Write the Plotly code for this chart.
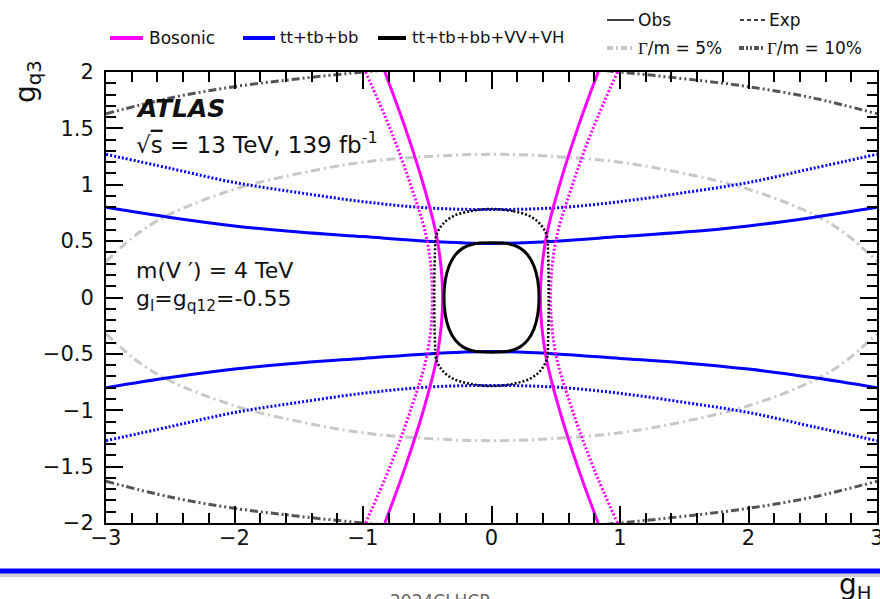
import plotly.graph_objects as go

# ---------------- data ----------------
# Bosonic (magenta) : g_H as a function of g_q3, right branch (left branch = negative)
bos_gq3 = [-2.0, -1.5, -1.0, -0.5, 0.0, 0.5, 1.0, 1.5, 2.0]
bos_obs_gH = [0.83, 0.67, 0.53, 0.42, 0.38, 0.42, 0.53, 0.67, 0.83]
bos_exp_gH = [0.98, 0.79, 0.63, 0.50, 0.46, 0.50, 0.63, 0.79, 0.98]

# tt+tb+bb (blue) : g_q3 as a function of g_H, upper branch (lower branch = negative)
heavy_gH = [-3.0, -2.5, -2.0, -1.5, -1.0, -0.5, 0.0, 0.5, 1.0, 1.5, 2.0, 2.5, 3.0]
heavy_obs_gq3 = [0.80, 0.71, 0.635, 0.58, 0.54, 0.50, 0.48, 0.50, 0.54, 0.58, 0.635, 0.71, 0.80]
heavy_exp_gq3 = [1.27, 1.145, 1.02, 0.93, 0.85, 0.795, 0.78, 0.795, 0.85, 0.93, 1.02, 1.145, 1.27]

# combined (black) closed contours
comb_obs_gH = [0.0, 0.14, 0.22, 0.28, 0.33, 0.36, 0.37, 0.36, 0.33, 0.28, 0.22, 0.14, 0.0,
               -0.14, -0.22, -0.28, -0.33, -0.36, -0.37, -0.36, -0.33, -0.28, -0.22, -0.14, 0.0]
comb_obs_gq3 = [0.485, 0.475, 0.44, 0.38, 0.28, 0.15, 0.0, -0.15, -0.28, -0.38, -0.44, -0.475, -0.485,
                -0.475, -0.44, -0.38, -0.28, -0.15, 0.0, 0.15, 0.28, 0.38, 0.44, 0.475, 0.485]
comb_exp_gH = [0.0, 0.17, 0.30, 0.38, 0.43, 0.44, 0.445, 0.44, 0.43, 0.38, 0.30, 0.17, 0.0,
               -0.17, -0.30, -0.38, -0.43, -0.44, -0.445, -0.44, -0.43, -0.38, -0.30, -0.17, 0.0]
comb_exp_gq3 = [0.785, 0.765, 0.72, 0.65, 0.55, 0.40, 0.0, -0.40, -0.55, -0.65, -0.72, -0.765, -0.785,
                -0.765, -0.72, -0.65, -0.55, -0.40, 0.0, 0.40, 0.55, 0.65, 0.72, 0.765, 0.785]

# width contours (grey), upper branch (lower branch = negative)
w5_gH = [-3.0, -2.75, -2.5, -2.0, -1.5, -1.0, -0.5, 0.0, 0.5, 1.0, 1.5, 2.0, 2.5, 2.75, 3.0]
w5_gq3 = [0.32, 0.57, 0.74, 0.96, 1.10, 1.20, 1.25, 1.27, 1.25, 1.20, 1.10, 0.96, 0.74, 0.57, 0.32]
w10_gH = [-3.0, -2.5, -2.0, -1.5, -1.0, -0.5, 0.0, 0.5, 1.0, 1.5, 2.0, 2.5, 3.0]
w10_gq3 = [1.63, 1.77, 1.87, 1.94, 2.0, 2.05, 2.07, 2.05, 2.0, 1.94, 1.87, 1.77, 1.63]

FONT = "DejaVu Sans"
MAG, BLUE, BLK = "#ff00ff", "#0000ff", "#000000"
LGREY, DGREY = "#c8c8c8", "#555555"
DOT = "2px,2px"
D5 = "9px,4px,2px,4px"
D10 = "8px,3px,2px,3px,2px,3px"

fig = go.Figure()

def add(x, y, color, dash, width=3):
    fig.add_trace(go.Scatter(x=x, y=y, mode="lines", showlegend=False, hoverinfo="skip",
                             line=dict(color=color, width=width, dash=dash, shape="spline", smoothing=1.0)))

# grey width contours
add(w5_gH, w5_gq3, LGREY, D5)
add(w5_gH, [-v for v in w5_gq3], LGREY, D5)
add(w10_gH, w10_gq3, DGREY, D10)
add(w10_gH, [-v for v in w10_gq3], DGREY, D10)

# blue
add(heavy_gH, heavy_exp_gq3, BLUE, DOT)
add(heavy_gH, [-v for v in heavy_exp_gq3], BLUE, DOT)
add(heavy_gH, heavy_obs_gq3, BLUE, "solid")
add(heavy_gH, [-v for v in heavy_obs_gq3], BLUE, "solid")

# magenta
add(bos_exp_gH, bos_gq3, MAG, DOT)
add([-v for v in bos_exp_gH], bos_gq3, MAG, DOT)
add(bos_obs_gH, bos_gq3, MAG, "solid")
add([-v for v in bos_obs_gH], bos_gq3, MAG, "solid")

# black
add(comb_exp_gH, comb_exp_gq3, BLK, DOT, 2.5)
add(comb_obs_gH, comb_obs_gq3, BLK, "solid", 3)

# ---------------- layout ----------------
W, H = 880, 599
L, R, T, B = 106, 3, 72, 76
PW, PH = W - L - R, H - T - B

def px(xp):
    return (xp - L) / PW

def py(yp):
    return (H - B - yp) / PH

shapes = []
annotations = []

def leg_line(x0, x1, y, color, dash, width):
    shapes.append(dict(type="line", xref="paper", yref="paper", x0=px(x0), x1=px(x1), y0=py(y), y1=py(y),
                       line=dict(color=color, width=width, dash=dash)))

def txt(x, y, s, size, xanchor="left", yanchor="middle", color="#111111", angle=0, family=FONT):
    annotations.append(dict(xref="paper", yref="paper", x=px(x), y=py(y), text=s, showarrow=False,
                            xanchor=xanchor, yanchor=yanchor, textangle=angle,
                            font=dict(family=family, size=size, color=color)))

GAMMA = "<span style='font-family:Liberation Serif'>Γ</span>"

# header legend
leg_line(110, 143, 38, MAG, "solid", 4)
txt(147, 38, "Bosonic", 17)
leg_line(243, 275, 38, BLUE, "solid", 4)
txt(278, 38, "tt+tb+bb", 16.5)
leg_line(378, 406, 38, BLK, "solid", 4)
txt(410, 38, "tt+tb+bb+VV+VH", 16.5)
leg_line(607, 634, 20, BLK, "solid", 1.5)
txt(636, 20, "Obs", 17)
leg_line(740, 765, 20, BLK, "4px,3px", 1.5)
txt(767, 20, "Exp", 17)
leg_line(607, 634, 48, LGREY, "6px,3px,2px,3px", 4)
txt(636, 48, GAMMA + "/m = 5%", 17)
leg_line(739, 763, 48, DGREY, "5px,2px,2px,2px,2px,2px", 4)
txt(765, 48, GAMMA + "/m = 10%", 17)

# in-plot labels (data coordinates)
def dtxt(x, y, s, size):
    annotations.append(dict(xref="x", yref="y", x=x, y=y, text=s, showarrow=False,
                            xanchor="left", yanchor="middle", font=dict(family=FONT, size=size, color="#111111")))

dtxt(-2.78, 1.68, "<b><i>ATLAS</i></b>", 25)
dtxt(-2.78, 1.37, "√<span style='text-decoration:overline'>s</span> = 13 TeV, 139 fb<sup>-1</sup>", 23)
dtxt(-2.78, 0.24, "m(V ′) = 4 TeV", 22)
dtxt(-2.78, -0.03, "g<sub>l</sub>=g<sub>q12</sub>=-0.55", 22)

# axis titles
txt(27, 82, "g<sub>q3</sub>", 28, xanchor="center", yanchor="middle", angle=-90)
txt(855, 566, "g<sub>H</sub>", 28, xanchor="center", yanchor="top")

# slide decoration: blue rule + caption
shapes.append(dict(type="line", xref="paper", yref="paper", x0=px(-5), x1=px(890), y0=py(575), y1=py(575),
                   line=dict(color="rgba(120,120,120,0.35)", width=4)))
shapes.append(dict(type="line", xref="paper", yref="paper", x0=px(-5), x1=px(890), y0=py(571), y1=py(571),
                   line=dict(color="#0000ff", width=5)))
txt(440, 589, "2024CLHCP", 17, xanchor="center", yanchor="top", color="#666666")

axis_common = dict(showgrid=False, zeroline=False, showline=True, linecolor="black", linewidth=2,
                   mirror="allticks", ticks="inside", ticklen=17, tickwidth=1.5, tickcolor="black",
                   ticklabeloverflow="allow", automargin=False,
                   tickfont=dict(family=FONT, size=21, color="#111111"))

fig.update_layout(
    width=W, height=H,
    margin=dict(l=L, r=R, t=T, b=B, autoexpand=False),
    paper_bgcolor="white", plot_bgcolor="white",
    showlegend=False,
    shapes=shapes, annotations=annotations,
    xaxis=dict(range=[-3, 3], dtick=1, tick0=0,
               minor=dict(dtick=0.2, ticks="inside", ticklen=10, tickwidth=1.5, tickcolor="black"),
               ticklabelstandoff=-5, **axis_common),
    yaxis=dict(range=[-2, 2], dtick=0.5, tick0=0,
               minor=dict(dtick=0.1, ticks="inside", ticklen=10, tickwidth=1.5, tickcolor="black"),
               ticklabelstandoff=6, **axis_common),
)

fig.write_html("out.html")
